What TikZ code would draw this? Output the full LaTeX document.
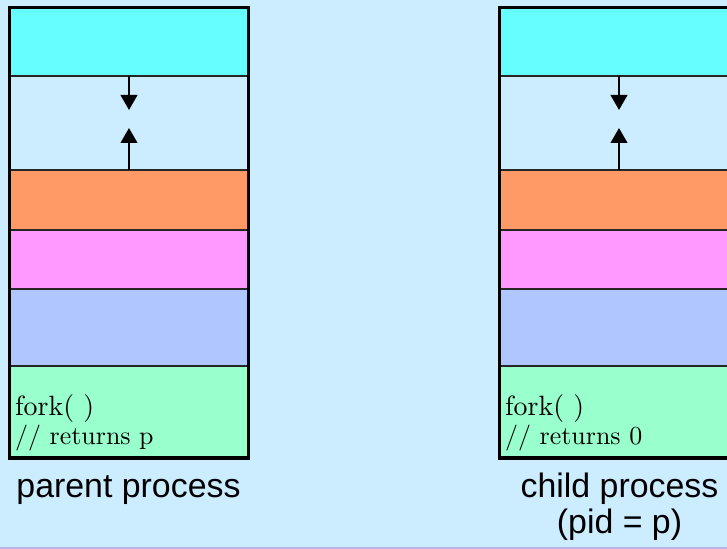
\documentclass[tikz,border=0pt]{standalone}
\usepackage{fontspec}
\newfontfamily\labelfont{Liberation Sans}
\newfontfamily\codefont{lmroman10-regular.otf}
\usetikzlibrary{arrows.meta}

\definecolor{sky}{HTML}{CCECFF}
\definecolor{textseg}{HTML}{66FFFF}
\definecolor{heapseg}{HTML}{FF9966}
\definecolor{dataseg}{HTML}{FF99FF}
\definecolor{bssseg}{HTML}{B0C6FF}
\definecolor{codeseg}{HTML}{99FFCC}
\definecolor{rulebar}{HTML}{BDB2EE}

\tikzset{
  band/.style={draw=black!85, line width=1.3bp, inner sep=0pt, outer sep=0pt,
    minimum width=239bp, anchor=north west},
  frame/.style={draw=black, line width=3.2bp},
  growth/.style={line width=2.6bp, -{Triangle[width=16.5bp,length=15bp]}},
  codetext/.style={anchor=base west, inner sep=0pt},
  caption/.style={anchor=base, inner sep=0pt, font=\labelfont\fontsize{34}{40}\selectfont}
}

% one memory image: bands from top to bottom, frame, growth arrows and code lines
\newcommand\memimage[1]{%
  \node[band, fill=textseg, minimum height=68.5bp] (top) at (9.5,7.5) {};
  \node[band, fill=sky, minimum height=94bp] (gap) at (top.south west) {};
  \node[band, fill=heapseg, minimum height=60bp] (heap) at (gap.south west) {};
  \node[band, fill=dataseg, minimum height=59bp] (data) at (heap.south west) {};
  \node[band, fill=bssseg, minimum height=77bp] (bss) at (data.south west) {};
  \node[band, fill=codeseg, minimum height=92bp] (code) at (bss.south west) {};
  \draw[frame] (top.north west) rectangle (code.south east);
  \coordinate (down) at ([yshift=-34bp]gap.north);
  \coordinate (up) at ([yshift=42bp]gap.south);
  \draw[growth] (gap.north) -- (down);
  \draw[growth] (gap.south) -- (up);
  \node[codetext, font=\codefont\fontsize{28}{30}\selectfont] (call) at (15,415) {fork( )};
  \node[codetext, font=\codefont\fontsize{26}{28}\selectfont] (ret) at (15,444) {// returns #1};
}

\begin{document}
\begin{tikzpicture}[x=1bp, y=-1bp]
  \useasboundingbox (0,0) rectangle (727,549);
  \clip (0,0) rectangle (727,549);
  \fill[sky] (0,0) rectangle (727,549);
  \fill[rulebar] (0,547.3) rectangle (727,549);

  \begin{scope}[name prefix=p-]
    \memimage{p}
    \node[caption] (label) at (128.5,497) {parent process};
  \end{scope}

  \begin{scope}[shift={(490,0)}, name prefix=c-]
    \memimage{0}
    \node[caption] (label) at (129.5,497) {child process};
    \node[caption] (pid) at (129.5,533) {(pid = p)};
  \end{scope}
\end{tikzpicture}
\end{document}
